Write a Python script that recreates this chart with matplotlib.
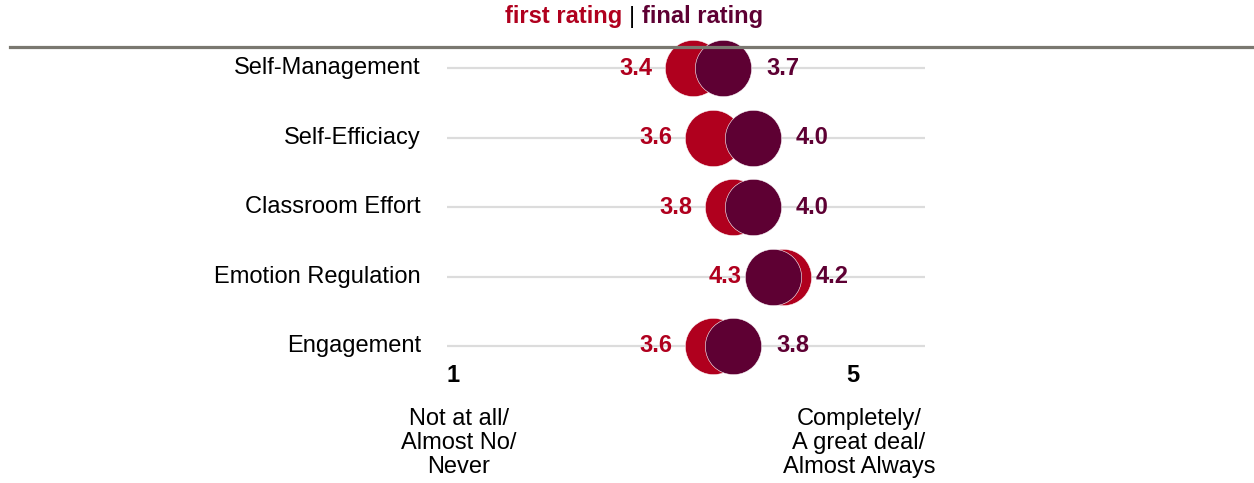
import matplotlib.pyplot as plt
from matplotlib.lines import Line2D

plt.rcParams['font.family'] = ['Liberation Sans', 'DejaVu Sans']

# 数据
categories = ['Self-Management', 'Self-Efficiacy', 'Classroom Effort',
              'Emotion Regulation', 'Engagement']
first_rating = [3.4, 3.6, 3.8, 4.3, 3.6]
final_rating = [3.7, 4.0, 4.0, 4.2, 3.8]
scale_ticks = [1, 5]
scale_labels = ['Not at all/\nAlmost No/\nNever',
                'Completely/\nA great deal/\nAlmost Always']

RED = '#B0001E'
PURPLE = '#5E0033'
FS = 17

W, H = 1254, 483
fig = plt.figure(figsize=(W / 100, H / 100), dpi=100)
ax = fig.add_axes([0, 0, 1, 1])
ax.axis('off')

# 坐标：x 每单位 100 像素，y 每行 69.5 像素
px_x, x0 = 100, 453
row_h, row0 = 69.5, 68
ax.set_xlim(1 - x0 / px_x, 1 + (W - x0) / px_x)
ax.set_ylim((H - row0) / row_h, -row0 / row_h)

rows = list(range(len(categories)))

# 灰色参考线
ax.hlines(rows, 0.94, 5.72, color='#DCDCDC', lw=1.6, zorder=1)

# 圆点
ax.scatter(first_rating, rows, s=1650, color=RED, edgecolor='white',
           linewidth=0.4, zorder=2)
ax.scatter(final_rating, rows, s=1650, color=PURPLE, edgecolor='white',
           linewidth=0.4, zorder=3)

for i, (cat, a, b) in enumerate(zip(categories, first_rating, final_rating)):
    ax.text(0.68, i, cat, ha='right', va='center', fontsize=FS)
    ax.text(a - 0.41, i, f'{a:.1f}', ha='right', va='center',
            fontsize=FS, fontweight='bold', color=RED)
    ax.text(b + 0.43, i, f'{b:.1f}', ha='left', va='center',
            fontsize=FS, fontweight='bold', color=PURPLE)

# 量表两端
for t, lab in zip(scale_ticks, scale_labels):
    ax.text(t, 4.42, str(t), ha='center', va='center', fontsize=FS,
            fontweight='bold')
    ax.text(t + 0.06, 5.39, lab, ha='center', va='center', fontsize=FS,
            linespacing=1.12)

# 图例
fig.text(632 / W, 1 - 17 / H, '|', ha='center', va='center', fontsize=FS)
fig.text(622 / W, 1 - 17 / H, 'first rating', ha='right', va='center',
         fontsize=FS, fontweight='bold', color=RED)
fig.text(642 / W, 1 - 17 / H, 'final rating', ha='left', va='center',
         fontsize=FS, fontweight='bold', color=PURPLE)

# 顶部分隔线
fig.add_artist(Line2D([10 / W, 1], [1 - 47 / H, 1 - 47 / H],
                      color='#7A7870', lw=2.3))

fig.savefig('out.png', dpi=100)
